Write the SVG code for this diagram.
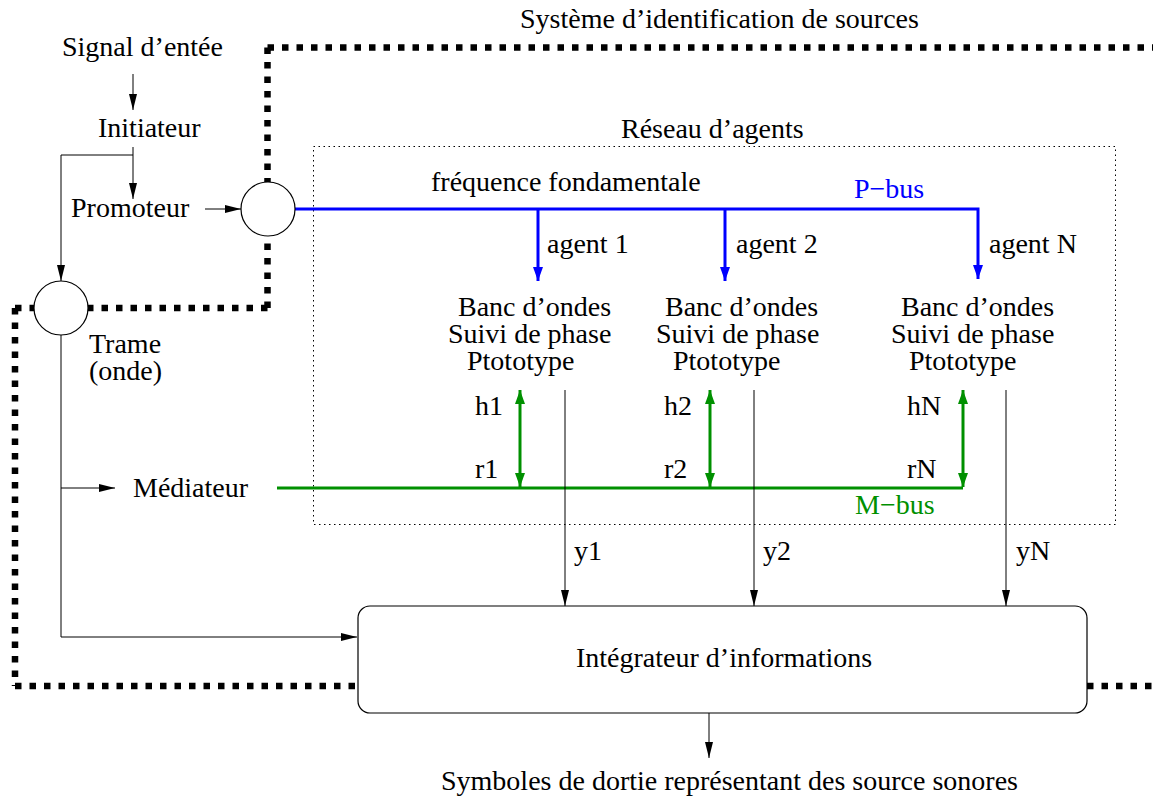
<svg xmlns="http://www.w3.org/2000/svg" width="1153" height="801" viewBox="0 0 1153 801">
<style>
text{font-family:"Liberation Serif","Times New Roman",serif;font-size:28px;fill:#000}
.blue{fill:#0000ff}
.green{fill:#009000}
.thin{stroke:#000;stroke-width:1;fill:none}
.pbus{stroke:#0000ff;stroke-width:3;fill:none}
.mbus{stroke:#009000;stroke-width:3;fill:none}
.frame{stroke:#000;stroke-width:6.5;fill:none;stroke-dasharray:6.5 8}
.dotted{stroke:#000;stroke-width:1;fill:none;stroke-dasharray:1.5 3.5}
.node{stroke:#000;stroke-width:1.2;fill:#fff}
</style>
<defs>
<marker id="ab" markerUnits="userSpaceOnUse" markerWidth="18" markerHeight="10" refX="16" refY="5" orient="auto">
<path d="M0,1 L16,5 L0,9 Z" fill="#000"/>
</marker>
<marker id="abl" markerUnits="userSpaceOnUse" markerWidth="16" markerHeight="12" refX="14" refY="6" orient="auto">
<path d="M0,1 L14,6 L0,11 Z" fill="#0000ff"/>
</marker>
<marker id="ag" markerUnits="userSpaceOnUse" markerWidth="16" markerHeight="12" refX="14" refY="6" orient="auto-start-reverse">
<path d="M0,1 L14,6 L0,11 Z" fill="#009000"/>
</marker>
</defs>

<g id="frame">
<path class="frame" d="M267.5,47.5 H1153"/>
<path class="frame" d="M267.5,47.5 V182"/>
<path class="frame" d="M267.5,308 V236"/>
<path class="frame" d="M267.5,308 H88"/>
<path class="frame" d="M15,308 H34"/>
<path class="frame" d="M15,308 V686"/>
<path class="frame" d="M15,686 H358"/>
<path class="frame" d="M1087,686 H1153"/>
<text x="520" y="28">Système d’identification de sources</text>
</g>

<g id="reseau">
<rect class="dotted" x="313.5" y="146.5" width="802" height="378"/>
<text x="621" y="138">Réseau d’agents</text>
</g>

<g id="connectors">
<line class="thin" x1="133" y1="74" x2="133" y2="110" marker-end="url(#ab)"/>
<line class="thin" x1="133" y1="147" x2="133" y2="199" marker-end="url(#ab)"/>
<polyline class="thin" points="133,155 61,155 61,281" marker-end="url(#ab)"/>
<line class="thin" x1="205" y1="209" x2="241" y2="209" marker-end="url(#ab)"/>
<polyline class="thin" points="61,335 61,637 357,637" marker-end="url(#ab)"/>
<line class="thin" x1="61" y1="488" x2="115" y2="488" marker-end="url(#ab)"/>
<polyline class="pbus" points="295,209 978,209 978,279" marker-end="url(#abl)"/>
<line class="pbus" x1="538" y1="209" x2="538" y2="281" marker-end="url(#abl)"/>
<line class="pbus" x1="725" y1="209" x2="725" y2="281" marker-end="url(#abl)"/>
<line class="mbus" x1="277" y1="488" x2="963" y2="488"/>
<line class="mbus" x1="520" y1="390" x2="520" y2="487" marker-start="url(#ag)" marker-end="url(#ag)"/>
<line class="mbus" x1="710" y1="390" x2="710" y2="487" marker-start="url(#ag)" marker-end="url(#ag)"/>
<line class="mbus" x1="963" y1="390" x2="963" y2="487" marker-start="url(#ag)" marker-end="url(#ag)"/>
<line class="thin" x1="565" y1="390" x2="565" y2="606" marker-end="url(#ab)"/>
<line class="thin" x1="754" y1="390" x2="754" y2="606" marker-end="url(#ab)"/>
<line class="thin" x1="1006" y1="390" x2="1006" y2="606" marker-end="url(#ab)"/>
<line class="thin" x1="709" y1="713" x2="709" y2="758" marker-end="url(#ab)"/>
</g>

<g id="signal"><text x="62" y="56">Signal d’entée</text></g>
<g id="initiateur"><text x="98" y="137">Initiateur</text></g>
<g id="promoteur"><text x="71" y="217">Promoteur</text></g>
<g id="junction1"><circle class="node" cx="268" cy="209" r="27"/></g>
<g id="junction2"><circle class="node" cx="61" cy="308" r="27"/></g>
<g id="trame"><text x="89" y="353">Trame</text><text x="89" y="380">(onde)</text></g>
<g id="mediateur"><text x="133" y="497">Médiateur</text></g>

<g id="bus-labels">
<text x="431" y="191">fréquence fondamentale</text>
<text class="blue" x="854" y="198">P−bus</text>
<text class="green" x="855" y="514">M−bus</text>
</g>

<g id="agent1">
<text x="547" y="253">agent 1</text>
<text x="458" y="316">Banc d’ondes</text>
<text x="448" y="343">Suivi de phase</text>
<text x="467" y="370">Ptototype</text>
<text x="475" y="415">h1</text>
<text x="475" y="478">r1</text>
<text x="574" y="560">y1</text>
</g>
<g id="agent2">
<text x="736" y="253">agent 2</text>
<text x="665" y="316">Banc d’ondes</text>
<text x="656" y="343">Suivi de phase</text>
<text x="673" y="370">Ptototype</text>
<text x="664" y="415">h2</text>
<text x="664" y="478">r2</text>
<text x="763" y="560">y2</text>
</g>
<g id="agentN">
<text x="989" y="253">agent N</text>
<text x="901" y="316">Banc d’ondes</text>
<text x="891" y="343">Suivi de phase</text>
<text x="909" y="370">Ptototype</text>
<text x="907" y="415">hN</text>
<text x="907" y="478">rN</text>
<text x="1016" y="560">yN</text>
</g>

<g id="integrateur">
<rect class="node" x="358" y="606" width="729" height="107" rx="12"/>
<text x="576" y="667">Intégrateur d’informations</text>
</g>
<g id="sortie"><text x="441" y="790">Symboles de dortie représentant des source sonores</text></g>
</svg>
